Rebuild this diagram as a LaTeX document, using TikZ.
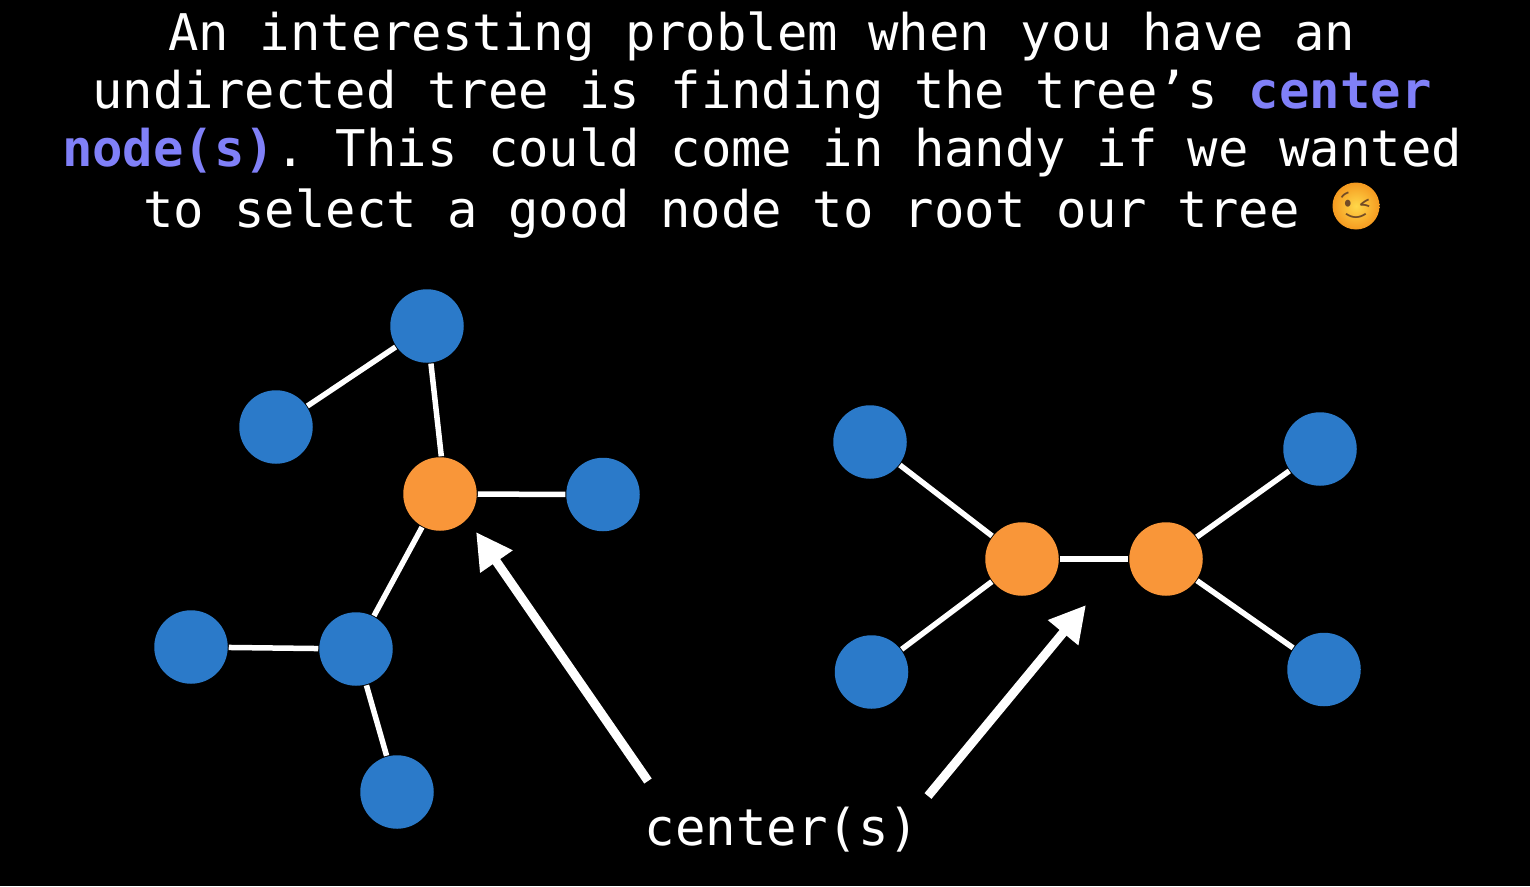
\documentclass[tikz,border=0pt]{standalone}
\usepackage{fontspec}
\setmonofont{DejaVu Sans Mono}
\newfontfamily\emojifont{Noto Emoji}
\usetikzlibrary{arrows.meta}
\definecolor{nodeblue}{HTML}{2B7AC9}
\definecolor{nodeorange}{HTML}{F99639}
\definecolor{accent}{HTML}{8080F8}
\definecolor{winkin}{HTML}{FFD84A}
\definecolor{winkout}{HTML}{F59A20}
\tikzset{
  treenode/.style={circle,minimum size=73.5pt,inner sep=0pt,outer sep=1pt},
  leaf/.style={treenode,fill=nodeblue},
  centernode/.style={treenode,fill=nodeorange},
  edgeline/.style={white,line width=5.5pt},
  pointer/.style={white,line width=9pt,-{Triangle[length=36pt,width=37pt]}},
  titleline/.style={text=white,anchor=base,inner sep=0pt,font=\ttfamily\fontsize{50.55}{50.55}\selectfont}
}
\newcommand{\hlt}[1]{\textcolor{accent}{\bfseries #1}}
\begin{document}
\begin{tikzpicture}[x=1pt,y=-1pt]
\fill[black] (0,0) rectangle (1530,886);
\useasboundingbox (0,0) rectangle (1530,886);
\node[titleline] (t1) at (762,50) {An interesting problem when you have an};
\node[titleline] (t2) at (762,108) {undirected tree is finding the tree’s \hlt{center}};
\node[titleline] (t3) at (762,166) {\hlt{node(s)}. This could come in handy if we wanted};
\node[titleline,anchor=base west] (t4) at (143,227) {to select a good node to root our tree};
% wink emoji
\shade[inner color=winkin,outer color=winkout] (1356,206) circle (23.5);
\begin{scope}
\clip (1356,206) circle (19);
\node[inner sep=0pt,text=brown!60!black,font=\emojifont\fontsize{47}{47}\selectfont] (wink) at (1356,206) {😉};
\end{scope}
% left tree
\node[leaf] (a) at (427,326) {};
\node[leaf] (b) at (276,427) {};
\node[centernode] (c) at (440,494) {};
\node[leaf] (d) at (603,494.5) {};
\node[leaf] (e) at (356,649) {};
\node[leaf] (f) at (191,647) {};
\node[leaf] (g) at (397,792) {};
\draw[edgeline] (a) -- (b);
\draw[edgeline] (a.-84) -- (c.88);
\draw[edgeline] (c) -- (d);
\draw[edgeline] (c) -- (e);
\draw[edgeline] (e) -- (f);
\draw[edgeline] (e) -- (g);
% right tree
\node[leaf] (h) at (870,442) {};
\node[leaf] (i) at (871.5,672) {};
\node[centernode] (j) at (1022,559) {};
\node[centernode] (k) at (1166,559) {};
\node[leaf] (l) at (1320,449) {};
\node[leaf] (m) at (1324,669.5) {};
\draw[edgeline] (h) -- (j);
\draw[edgeline] (i) -- (j);
\draw[edgeline] (j) -- (k);
\draw[edgeline] (k) -- (l);
\draw[edgeline] (k) -- (m);
% label and pointers
\node[titleline,font=\ttfamily\fontsize{50.7}{50.7}\selectfont] (lbl) at (782,845) {center(s)};
\coordinate (p1s) at (648,781);
\coordinate (p1e) at (476,532);
\coordinate (p2s) at (928,796);
\coordinate (p2e) at (1086,605);
\draw[pointer] (p1s) -- (p1e);
\draw[pointer] (p2s) -- (p2e);
\end{tikzpicture}
\end{document}
